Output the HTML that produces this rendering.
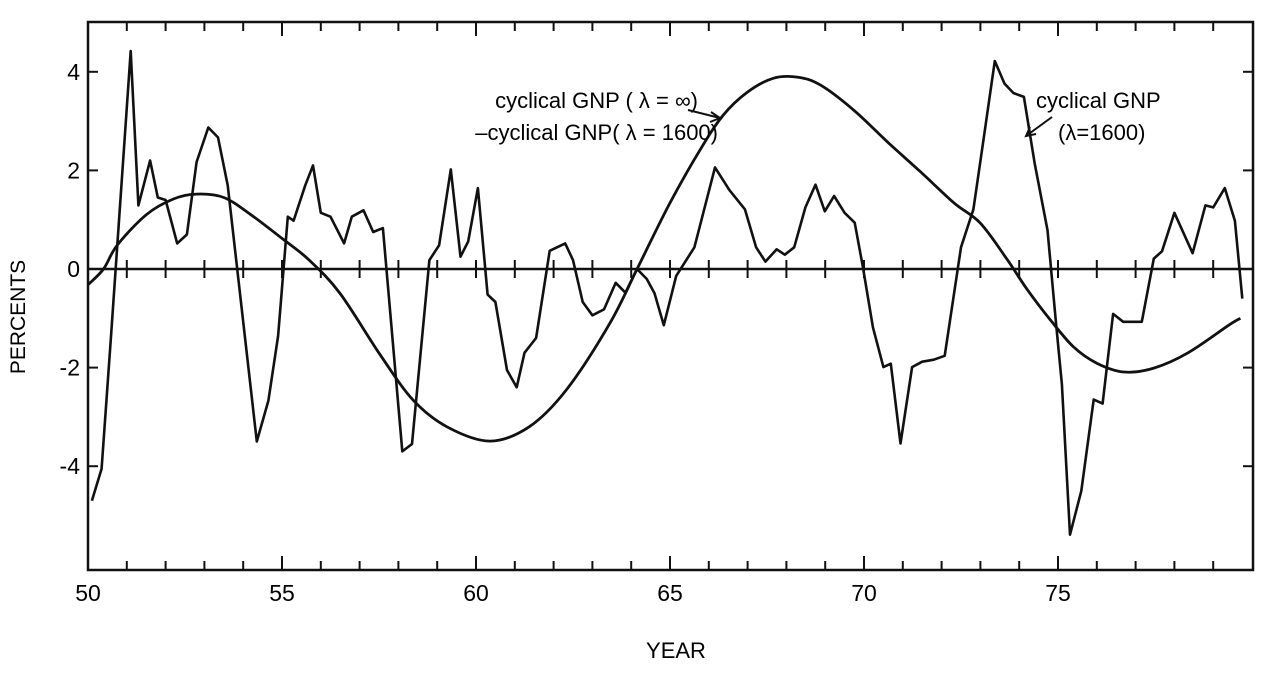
<!DOCTYPE html>
<html><head><meta charset="utf-8"><style>
html,body{margin:0;padding:0;background:#fff;}
svg{display:block;font-family:"Liberation Sans","DejaVu Sans",sans-serif;}
</style></head><body>
<svg id="chart" width="1269" height="675" viewBox="0 0 1269 675">
<g id="axes"></g>
<g id="marks"></g>
<text x="25" y="317" font-size="21" text-anchor="middle" transform="rotate(-90 25 317)">PERCENTS</text>
<text x="676" y="658" font-size="22" text-anchor="middle">YEAR</text>
<text x="698" y="108" font-size="22" text-anchor="end">cyclical GNP ( λ = ∞)</text>
<text x="718" y="140" font-size="22" text-anchor="end">–cyclical GNP( λ = 1600)</text>
<text x="1036" y="108" font-size="22">cyclical GNP</text>
<text x="1058" y="140" font-size="22">(λ=1600)</text>
<g stroke="#111" stroke-width="2" fill="none">
<path d="M688 110 L720 118 M711 112 L720 118 L710 122"/>
<path d="M1052 117 L1026 136 M1030 127 L1026 136 L1036 134"/>
</g>
</svg>
<script>
const gnpYears=[50.1,50.35,50.6,51.1,51.3,51.6,51.8,52.0,52.3,52.55,52.8,53.1,53.35,53.6,54.35,54.65,54.9,55.15,55.3,55.6,55.8,56.0,56.25,56.6,56.8,57.1,57.35,57.6,58.1,58.35,58.8,59.05,59.35,59.6,59.8,60.05,60.3,60.5,60.8,61.05,61.25,61.55,61.9,62.3,62.5,62.75,63.0,63.3,63.6,63.85,64.15,64.4,64.6,64.84,65.16,65.63,66.16,66.53,66.93,67.22,67.46,67.75,67.96,68.2,68.49,68.75,68.99,69.23,69.5,69.76,69.97,70.23,70.5,70.69,70.94,71.24,71.5,71.8,72.08,72.5,72.82,73.09,73.37,73.62,73.85,74.12,74.4,74.73,74.94,75.1,75.31,75.6,75.92,76.15,76.42,76.68,77.16,77.47,77.68,78.0,78.47,78.8,79.0,79.3,79.56,79.75];
const gnpValues=[-4.7,-4.05,-1.28,4.42,1.29,2.2,1.45,1.4,0.52,0.7,2.17,2.87,2.67,1.7,-3.5,-2.67,-1.36,1.06,0.98,1.7,2.1,1.14,1.06,0.52,1.06,1.19,0.75,0.83,-3.7,-3.55,0.18,0.48,2.02,0.25,0.56,1.64,-0.52,-0.67,-2.05,-2.4,-1.7,-1.4,0.37,0.52,0.18,-0.67,-0.94,-0.82,-0.28,-0.48,0,-0.2,-0.49,-1.14,-0.14,0.44,2.06,1.6,1.21,0.44,0.15,0.4,0.29,0.44,1.25,1.71,1.17,1.48,1.14,0.94,0.05,-1.18,-1.99,-1.92,-3.54,-1.99,-1.88,-1.84,-1.76,0.44,1.21,2.68,4.22,3.76,3.57,3.49,2.14,0.79,-1.03,-2.34,-5.39,-4.5,-2.65,-2.73,-0.91,-1.07,-1.07,0.21,0.36,1.14,0.32,1.29,1.25,1.64,0.98,-0.6];
const diffYears=[50.0,50.4,50.75,51.5,52.2,52.8,53.5,54.2,55.0,55.7,56.5,57.53,58.38,59.25,60.36,61.37,62.33,63.45,64.2,65.0,65.77,66.37,67.0,67.67,68.3,68.88,69.74,70.6,71.46,72.32,73.0,73.7,74.22,74.8,75.4,76.0,76.7,77.47,78.35,79.4,79.7];
const diffValues=[-0.32,0,0.48,1.1,1.42,1.52,1.45,1.1,0.62,0.18,-0.5,-1.74,-2.66,-3.2,-3.49,-3.2,-2.45,-1.1,0.08,1.34,2.41,3.12,3.59,3.87,3.89,3.73,3.22,2.58,1.97,1.34,0.93,0.18,-0.43,-1.03,-1.58,-1.91,-2.09,-2.01,-1.7,-1.14,-1.0];
const yTicks=[4,2,0,-2,-4];
const xLabels=[50,55,60,65,70,75];

const NS="http://www.w3.org/2000/svg";
const L=88,R=1253,T=22,B=570;
const sx=y=>L+(y-50)*38.8;
const sy=v=>269-v*49.3;
const axes=document.getElementById('axes'),marks=document.getElementById('marks');
function mk(tag,attrs,parent){const e=document.createElementNS(NS,tag);for(const k in attrs)e.setAttribute(k,attrs[k]);parent.appendChild(e);return e;}

const frame=mk('rect',{x:L,y:T,width:R-L,height:B-T,fill:'none',stroke:'#111','stroke-width':2.5},axes);


const zl=mk('line',{x1:L,x2:R,y1:sy(0),y2:sy(0),stroke:'#111','stroke-width':2.5},axes);



for(let yr=51;yr<=79;yr++){
  const x=sx(yr),big=yr%5===0,len=big?14:9;
  const t1=mk('line',{x1:x,x2:x,y1:B,y2:B-len,stroke:'#111','stroke-width':2},axes);
  
  
  const t2=mk('line',{x1:x,x2:x,y1:T,y2:T+len,stroke:'#111','stroke-width':2},axes);
  
  
  const t3=mk('line',{x1:x,x2:x,y1:sy(0)-9,y2:sy(0)+9,stroke:'#111','stroke-width':2},axes);
  
  
}
xLabels.forEach(v=>{
  const t=mk('text',{x:sx(v),y:B+31,'font-size':23,'text-anchor':'middle'},axes);
  t.textContent=v;
  
  
});
yTicks.forEach(v=>{
  const y=sy(v);
  const a=mk('line',{x1:L,x2:L+10,y1:y,y2:y,stroke:'#111','stroke-width':2},axes);
  
  
  const b=mk('line',{x1:R-10,x2:R,y1:y,y2:y,stroke:'#111','stroke-width':2},axes);
  
  
  const t=mk('text',{x:L-8,y:y+8,'font-size':23,'text-anchor':'end'},axes);
  t.textContent=v<0?'-'+Math.abs(v):String(v);
  
  
});

const gp=mk('path',{d:gnpYears.map((y,i)=>(i?'L':'M')+sx(y).toFixed(1)+' '+sy(gnpValues[i]).toFixed(1)).join(' '),fill:'none',stroke:'#111','stroke-width':2.6,'stroke-linejoin':'round'},marks);



let d='M'+sx(diffYears[0]).toFixed(1)+' '+sy(diffValues[0]).toFixed(1);
const P=diffYears.map((y,i)=>[sx(y),sy(diffValues[i])]);
for(let i=0;i<P.length-1;i++){
  const p0=P[Math.max(0,i-1)],p1=P[i],p2=P[i+1],p3=P[Math.min(P.length-1,i+2)];
  const c1=[p1[0]+(p2[0]-p0[0])/6,p1[1]+(p2[1]-p0[1])/6];
  const c2=[p2[0]-(p3[0]-p1[0])/6,p2[1]-(p3[1]-p1[1])/6];
  d+=` C${c1[0].toFixed(1)} ${c1[1].toFixed(1)} ${c2[0].toFixed(1)} ${c2[1].toFixed(1)} ${p2[0].toFixed(1)} ${p2[1].toFixed(1)}`;
}
const dp=mk('path',{d:d,fill:'none',stroke:'#111','stroke-width':2.8},marks);


</script>
</body></html>
